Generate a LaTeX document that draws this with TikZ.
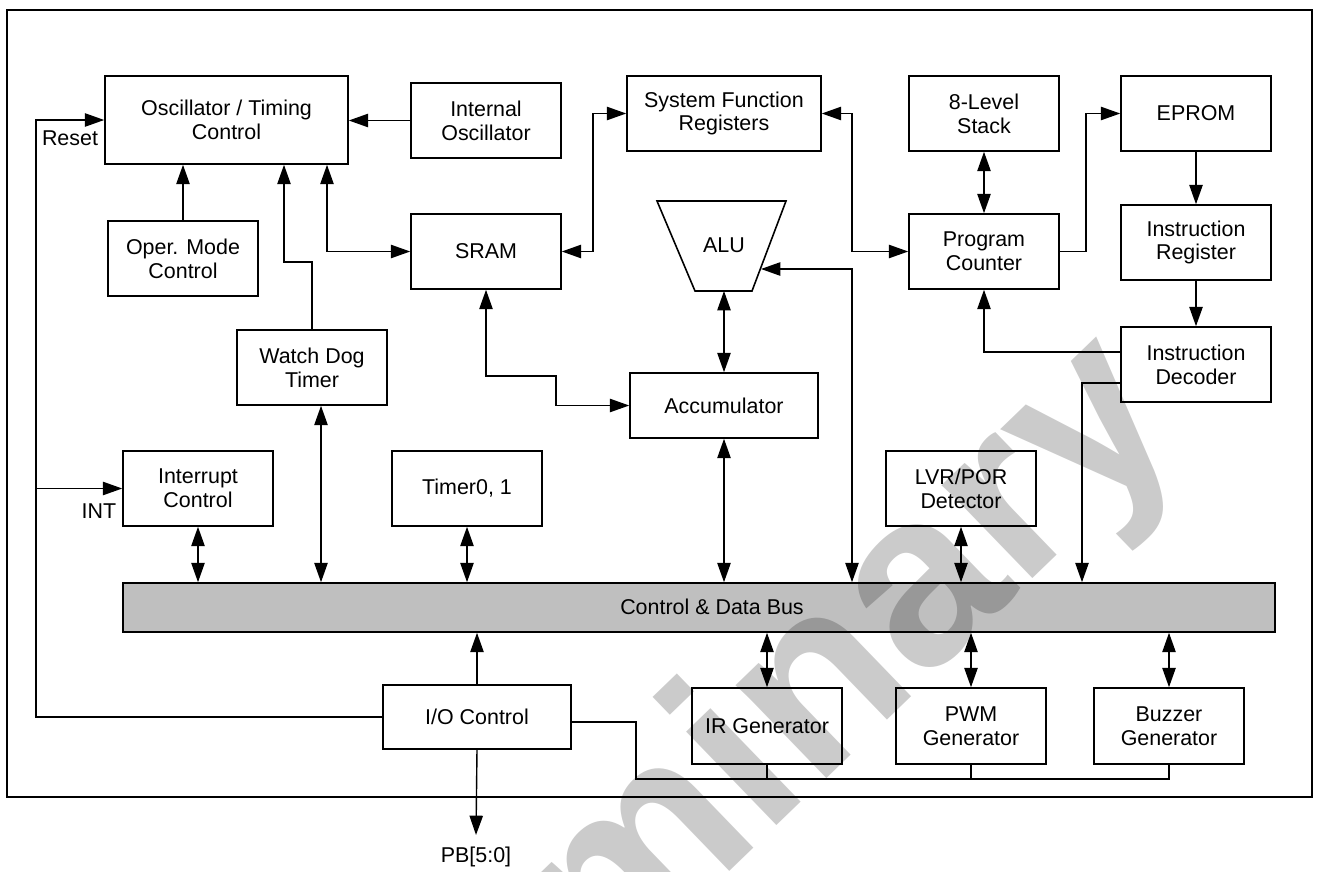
\documentclass[tikz,border=0pt]{standalone}
\usepackage{fontspec}
\setmainfont{Liberation Sans}
\usetikzlibrary{arrows.meta}
\definecolor{wm}{HTML}{CBCBCB}
\begin{document}
\begin{tikzpicture}[x=0.02cm,y=-0.02cm,
  font=\fontsize{12.2}{13.6}\selectfont,
  box/.style 2 args={draw,line width=0.9pt,minimum width=#1*0.02cm,minimum height=#2*0.02cm,inner sep=0pt,align=center},
  conn/.style={line width=0.8pt},
  arr/.style={conn,-{Triangle[length=11pt,width=7.6pt]}},
  darr/.style={conn,{Triangle[length=11pt,width=7.6pt]}-{Triangle[length=11pt,width=7.6pt]}},
  lbl/.style={inner sep=0pt}]
\useasboundingbox (0,0) rectangle (1319,872);
\clip (0,0) rectangle (1319,872);
% watermark
\node[rotate=44,anchor=base east,inner sep=0pt,text=wm,font=\fontsize{140}{140}\selectfont\bfseries] (wmark) at (1188,429) {Preliminary};
% frame
\draw[line width=1.6pt] (7,10) rectangle (1312,797);
% boxes
\node[box={243}{88}] (osc) at (226.5,120) {Oscillator / Timing\\Control};
\node[box={150}{75}] (oper) at (183,258.5) {Oper. Mode\\Control};
\node[box={150}{75}] (intosc) at (486,120.5) {Internal\\Oscillator};
\node[box={150}{75}] (sram) at (486,251.5) {SRAM};
\node[box={194}{75}] (sfr) at (724,113.5) {System Function\\Registers};
\node[box={150}{75}] (stack) at (984,113.5) {8-Level\\Stack};
\node[box={150}{75}] (eprom) at (1196,113.5) {EPROM};
\node[box={150}{75}] (pc) at (984,251.5) {Program\\Counter};
\node[box={150}{75}] (ir) at (1196,242.5) {Instruction\\Register};
\node[box={150}{75}] (id) at (1196,364.5) {Instruction\\Decoder};
\node[box={150}{75}] (wdt) at (312,367.5) {Watch Dog\\Timer};
\node[box={150}{75}] (intc) at (198,488.5) {Interrupt\\Control};
\node[box={150}{75}] (timer) at (467,488.5) {Timer0, 1};
\node[box={188}{65}] (acc) at (724,405.5) {Accumulator};
\node[box={150}{75}] (lvr) at (961,488.5) {LVR/POR\\Detector};
\node[box={188}{64}] (io) at (477,717) {I/O Control};
\node[box={150}{76}] (irg) at (767,726) {IR Generator};
\node[box={150}{76}] (pwm) at (971,726) {PWM\\Generator};
\node[box={150}{76}] (buz) at (1169,726) {Buzzer\\Generator};
% bus
\node[draw,line width=0.9pt,fill=black,fill opacity=0.25,draw opacity=1,text opacity=1,minimum width=1152*0.02cm,minimum height=49*0.02cm,inner sep=0pt] (bus) at (699,607.5) {};
\node[lbl] (buslbl) at (712,607) {Control \& Data Bus};
% ALU
\coordinate (alutl) at (657,201);
\coordinate (alutr) at (786,201);
\coordinate (alubr) at (752,291);
\coordinate (alubl) at (695,291);
\draw[line width=0.9pt] (alutl) -- (alutr) -- (alubr) -- (alubl) -- cycle;
\node[lbl] (alu) at (724,245) {ALU};
\coordinate (alub) at (724,291);
\coordinate (alur) at (761,269);
% labels
\node[lbl] (reset) at (70,138) {Reset};
\node[lbl] (int) at (99,511) {INT};
\node[lbl] (pb) at (476,857) {PB[5:0]};
% bend coordinates
\coordinate (lft) at (36,0);
\coordinate (w1) at (284,262);
\coordinate (s1) at (327,251.5);
\coordinate (s2) at (593,0);
\coordinate (s3) at (852,0);
\coordinate (s4) at (556,376);
\coordinate (s5) at (1086,0);
\coordinate (s6) at (0,352);
\coordinate (s7) at (1082,383);
\coordinate (s8) at (321,0);
\coordinate (s9a) at (636,722);
\coordinate (s9) at (636,779);
\coordinate (pbt) at (476,835);
% connectors
\draw[arr] (io.west) -- (io.west -| lft) -- (lft |- osc.west) -- (osc.west);
\draw[arr] (lft |- intc.west) -- (intc.west);
\draw[arr] (intosc.west) -- (osc.east |- intosc.west);
\draw[arr] (oper.north) -- (oper.north |- osc.south);
\draw[arr] (wdt.north) |- (w1) -- (w1 |- osc.south);
\draw[darr] (s1 |- osc.south) -- (s1) -- (sram.west);
\draw[darr] (sram.east) -- (s2 |- sram.east) -- (s2 |- sfr.west) -- (sfr.west);
\draw[darr] (sfr.east) -- (s3 |- sfr.east) -- (s3 |- pc.west) -- (pc.west);
\draw[darr] (alur) -- (s3 |- alur) -- (s3 |- bus.north);
\draw[darr] (alub) -- (acc.north);
\draw[darr] (sram.south) -- (sram.south |- s4) -- (s4) -- (s4 |- acc.west) -- (acc.west);
\draw[darr] (acc.south) -- (acc.south |- bus.north);
\draw[darr] (stack.south) -- (pc.north);
\draw[arr] (pc.east) -- (s5 |- pc.east) -- (s5 |- eprom.west) -- (eprom.west);
\draw[arr] (eprom.south) -- (ir.north);
\draw[arr] (ir.south) -- (id.north);
\draw[arr] (id.west |- s6) -- (pc.south |- s6) -- (pc.south);
\draw[arr] (id.west |- s7) -- (s7) -- (s7 |- bus.north);
\draw[darr] (s8 |- wdt.south) -- (s8 |- bus.north);
\draw[darr] (intc.south) -- (intc.south |- bus.north);
\draw[darr] (timer.south) -- (timer.south |- bus.north);
\draw[darr] (lvr.south) -- (lvr.south |- bus.north);
\draw[darr] (irg.north |- bus.south) -- (irg.north);
\draw[darr] (pwm.north |- bus.south) -- (pwm.north);
\draw[darr] (buz.north |- bus.south) -- (buz.north);
\draw[arr] (io.north) -- (io.north |- bus.south);
\draw[arr] (io.south) -- (pbt);
\draw[conn] (io.east |- s9a) -- (s9a) -- (s9) -- (buz.south |- s9) -- (buz.south);
\draw[conn] (irg.south) -- (irg.south |- s9);
\draw[conn] (pwm.south) -- (pwm.south |- s9);
\end{tikzpicture}
\end{document}
